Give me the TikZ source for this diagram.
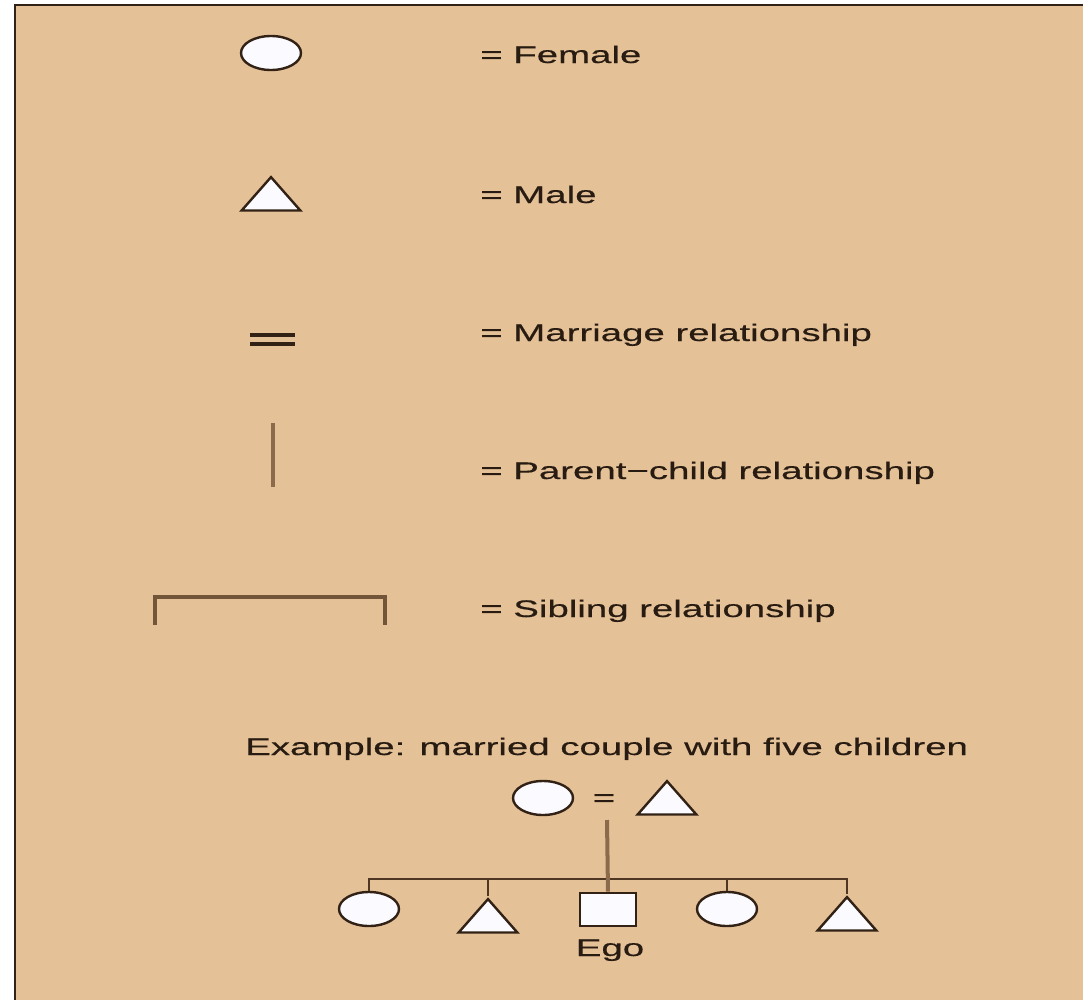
\documentclass[tikz,border=0pt]{standalone}
\usepackage{fontspec}
\setmainfont{Liberation Sans}[FakeStretch=1.6,FakeBold=0.4]
\usetikzlibrary{shapes.geometric}
\definecolor{bg}{RGB}{229,193,151}
\definecolor{ink}{RGB}{50,34,22}
\definecolor{txt}{RGB}{40,28,18}
\definecolor{pline}{RGB}{140,106,76}
\definecolor{sline}{RGB}{115,86,58}
\definecolor{hline}{RGB}{78,54,34}
\definecolor{shapefill}{RGB}{250,250,255}
\tikzset{
  lbl/.style={anchor=base west, inner sep=0pt, text=txt, font=\fontsize{18}{22}\selectfont},
  female/.style={ellipse, draw=ink, fill=shapefill, line width=1.8pt, inner sep=0pt,
    minimum width=45pt, minimum height=25.5pt},
  male/.style={isosceles triangle, shape border rotate=90, isosceles triangle stretches,
    draw=ink, fill=shapefill, line width=1.8pt, inner sep=0pt,
    minimum width=44pt, minimum height=25pt},
  egobox/.style={rectangle, draw=ink, fill=shapefill, line width=1.8pt, inner sep=0pt,
    minimum width=42pt, minimum height=25pt},
  parentline/.style={draw=pline, line width=3.2pt},
  sibline/.style={draw=hline, line width=2pt},
}
\begin{document}
\begin{tikzpicture}[x=0.75pt,y=-0.75pt]
\useasboundingbox (0,0) rectangle (1083,1000);
\clip (0,0) rectangle (1083,1000);
\fill[white] (0,0) rectangle (1083,1000);
\fill[bg] (15,5) rectangle (1100,1020);
\draw[ink, line width=1.8pt] (15,1020) -- (15,5) -- (1100,5);

% legend
\node[female] (lf) at (271,53) {};
\node[lbl] (tf) at (480,63) {= Female};
\node[male, anchor=apex] (lm) at (271,174) {};
\node[lbl] (tm) at (480,203) {= Male};
\coordinate (mA) at (250,335);
\coordinate (mB) at (295,335);
\coordinate (mC) at (250,344);
\coordinate (mD) at (295,344);
\draw[ink, line width=2.6pt] (mA) -- (mB);
\draw[ink, line width=2.6pt] (mC) -- (mD);
\node[lbl] (tmr) at (480,341) {= Marriage relationship};
\coordinate (pA) at (273,423);
\coordinate (pB) at (273,487);
\draw[parentline] (pA) -- (pB);
\node[lbl] (tp) at (480,479) {= Parent−child relationship};
\coordinate (sA) at (155,625);
\coordinate (sB) at (155,597);
\coordinate (sC) at (385,597);
\coordinate (sD) at (385,625);
\draw[sline, line width=2.6pt] (sA) -- (sB) -- (sC) -- (sD);
\node[lbl] (ts) at (480,617) {= Sibling relationship};

% example
\node[lbl] (tex) at (245,755) {Example: married couple with five children};
\node[female] (mother) at (543,798) {};
\node[lbl, anchor=base] (eq) at (604,806) {=};
\node[male, anchor=apex] (father) at (667,778) {};
\coordinate (cpl) at (607,820);
\coordinate (sib) at (607,879);

\node[female] (c1) at (369,909) {};
\node[male, anchor=apex] (c2) at (488,896) {};
\node[egobox] (ego) at (608,909.5) {};
\node[female] (c4) at (727,909) {};
\node[male, anchor=apex] (c5) at (847,894) {};
\node[lbl, anchor=base] (egot) at (610,956) {Ego};

\draw[sibline] (c1.north) -- (c1.north |- sib) -- (c5.apex |- sib) -- (c5.apex);
\draw[sibline] (c2.apex) -- (c2.apex |- sib);
\draw[sibline] (c4.north) -- (c4.north |- sib);
\draw[parentline, line width=3pt] (cpl) -- (ego.north);
\end{tikzpicture}
\end{document}
